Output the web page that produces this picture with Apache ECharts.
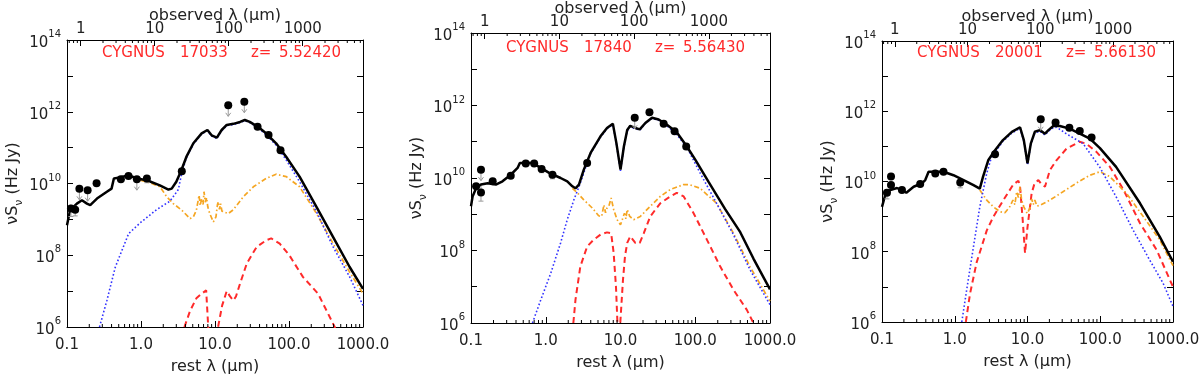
<!DOCTYPE html>
<html><head><meta charset="utf-8">
<script src="https://cdn.jsdelivr.net/npm/echarts@6/dist/echarts.min.js"></script>
<style>html,body{margin:0;padding:0;background:#fff}#c{width:1200px;height:376px;background:#fff}</style>
</head><body><div id="c"></div>
<script>
// ---------------- DATA ----------------
const redshifts = [5.52420, 5.56430, 5.66130];
const sourceIds = ['17033', '17840', '20001'];
const catalogName = 'CYGNUS';
const xTickLabels = ['0.1', '1.0', '10.0', '100.0', '1000.0'];
const topTickLabels = ['1', '10', '100', '1000'];
const minorRest = [0.2,0.3,0.4,0.5,0.6,0.7,0.8,0.9,2,3,4,5,6,7,8,9,20,30,40,50,60,70,80,90,200,300,400,500,600,700,800,900];
const minorObs = [0.7,0.8,0.9,2,3,4,5,6,7,8,9,20,30,40,50,60,70,80,90,200,300,400,500,600,700,800,900,2000,3000,4000,5000,6000];

const lamTot1 = [0.1,0.11,0.136,0.159,0.186,0.206,0.254,0.346,0.40,0.43,0.52,0.68,0.88,1.2,1.8,2.35,2.6,3.0,3.5,4.1,5.1,6.6,7.9,9.0,10.6,12.3,14.4,17.7,21.8,25.3,29.5,38,49,67,92,139,236,395,660,1000];
const tot1 = [6.9e8,1.8e9,2.75e9,3.4e9,2.75e9,2.5e9,3.8e9,5.9e9,7.2e9,1.38e10,1.48e10,1.7e10,1.38e10,1.23e10,8.9e9,6.8e9,7.2e9,1.12e10,2.3e10,5.5e10,1.32e11,2.5e11,3.1e11,2.2e11,1.9e11,3.1e11,4.3e11,4.6e11,5.2e11,5.9e11,5.2e11,3.8e11,2.5e11,1.32e11,5.5e10,1.55e10,2.2e9,3.2e8,4.7e7,1.15e7];
const lamHost1 = [0.975,1.33,1.81,2.22,2.73,3.56,4.6,5.1,5.6,6.1,6.3,6.6,6.9,7.1,7.4,7.7,8.0,8.5,9.5,10.3,10.8,11.1,11.5,11.9,12.4,12.9,15.1,17.7,24.2,33,49,67,92,139,236,395,660,1000];
const host1 = [1.23e10,1.05e10,8.1e9,4.3e9,2.75e9,1.8e9,1.05e9,1.17e9,1.8e9,4.7e9,2.4e9,3.8e9,2.6e9,5.9e9,3.0e9,4.0e9,2.2e9,1.45e9,8.5e8,1.17e9,2.6e9,3.1e9,1.9e9,2.75e9,1.7e9,1.62e9,1.45e9,1.86e9,4.3e9,8.1e9,1.38e10,1.82e10,1.55e10,8.1e9,1.45e9,2.1e8,3.4e7,8.5e6];
const lamSb1 = [0.275,0.346,0.45,0.68,0.975,1.64,2.46,3.2,3.56,4.1,5.1,6.6,7.9,9.0,10.6,12.3,14.4,17.7,21.8,25.3,29.5,38,49,67,92,139,236,395,660,1000];
const sb1 = [1.0e6,5.5e6,4.7e7,4.0e8,8.0e8,1.9e9,3.2e9,6.8e9,2.0e10,5.2e10,1.26e11,2.4e11,2.95e11,2.1e11,1.8e11,2.95e11,4.1e11,4.4e11,5.0e11,5.6e11,5.0e11,3.6e11,2.3e11,1.17e11,4.5e10,1.12e10,1.62e9,1.7e8,2.5e7,4.0e6];
const lamAgn1 = [3.86,4.6,5.6,6.6,7.6,8.1,8.4,10.6,11.0,12.5,14.4,16.0,17.7,19.2,21.8,26.9,36.5,49,57.5,75,101,154,247,415,500];
const agn1 = [1.0e6,2.8e6,6.3e6,8.5e6,1.05e7,1.0e6,1e5,1e5,1.0e6,4.0e6,1.0e7,7.1e6,5.5e6,7.1e6,1.62e7,5.9e7,1.7e8,2.6e8,2.95e8,2.1e8,1.0e8,2.5e7,8.5e6,1.0e6,2.0e5];
const obs1 = [[0.113,2.0e9,0],[0.129,1.86e9,0],[0.147,7.1e9,1],[0.190,6.5e9,1],[0.251,1.02e10,0],[0.535,1.32e10,0],[0.678,1.62e10,0],[0.879,1.32e10,1],[1.20,1.38e10,0],[3.56,2.2e10,0],[15.1,1.51e12,1],[24.9,1.9e12,1],[37.6,3.8e11,0],[52.9,2.24e11,0],[76.8,8.5e10,0]];
const err1 = [[0.113,1.2e9,2.6e9],[0.129,1.25e9,2.4e9],[1.20,1.05e10,1.7e10]];

const lamTot2 = [0.1,0.105,0.117,0.136,0.167,0.215,0.264,0.34,0.42,0.45,0.54,0.66,0.86,1.11,1.58,1.94,2.27,2.5,2.78,3.23,3.98,5.4,6.6,7.9,8.8,10.0,11.1,12.3,13.5,15.8,18.1,21.5,26.4,32.4,41.8,56.5,75.7,100,150,250,400,600,1000];
const tot2 = [1.66e9,3.1e9,5.2e9,6.6e9,7.2e9,6.6e9,8.1e9,1.23e10,1.9e10,2.6e10,2.6e10,2.6e10,1.9e10,1.38e10,1.0e10,8.1e9,5.9e9,5.2e9,6.6e9,1.7e10,4.9e10,1.41e11,2.4e11,3.16e11,9.3e10,1.7e10,7.4e10,2.1e11,2.75e11,2.4e11,2.2e11,3.3e11,4.6e11,4.1e11,2.95e11,1.82e11,7.9e10,3.2e10,7.9e9,1.41e9,3.2e8,6.0e7,8.5e6];
const lamHost2 = [2.27,2.65,3.23,4.2,5.1,5.6,6.0,6.3,6.6,7.0,7.5,8.1,9.0,10.0,11.3,11.8,12.3,13.3,15.0,18.4,25,34,46.4,70,85,116,193,324,540,1000];
const host2 = [5.2e9,3.9e9,2.5e9,1.48e9,9.1e8,8.7e8,1.82e9,1.1e9,1.48e9,1.7e9,2.8e9,1.35e9,7.1e8,5.1e8,1.07e9,7.5e8,1.35e9,8.7e8,7.1e8,8.7e8,1.66e9,3.1e9,4.8e9,6.6e9,6.5e9,5.2e9,2.0e9,3.0e8,3.6e7,4.0e6];
const lamSb2 = [0.664,0.86,1.17,1.58,1.94,2.38,2.9,3.58,3.98,5.4,6.6,7.9,8.8,10.0,11.1,12.3,13.5,15.8,18.1,21.5,26.4,32.4,41.8,56.5,77.8,116,193,324,540,1000];
const sb2 = [1.0e6,4.4e6,2.4e7,1.62e8,7.1e8,2.5e9,7.2e9,2.6e10,4.7e10,1.35e11,2.3e11,3.0e11,8.9e10,1.58e10,7.1e10,2.0e11,2.6e11,2.3e11,2.1e11,3.2e11,4.4e11,3.9e11,2.75e11,1.58e11,6.8e10,1.38e10,2.0e9,2.75e8,2.95e7,3.2e6];
const lamAgn2 = [2.34,2.5,2.9,3.58,4.4,5.4,6.6,7.5,8.1,8.7,9.1,9.3,9.6,10.0,10.8,11.5,12.3,13.5,15.8,18.1,20.5,25,34,46.4,56.5,70,95,143,216,324,490,600,700];
const agn2 = [1.0e6,4.4e6,3.6e7,1.29e8,2.0e8,2.75e8,3.16e8,3.0e8,8.5e7,1.0e7,1.0e6,1e5,1e5,1.26e6,1.58e7,7.1e7,1.62e8,2.45e8,1.62e8,1.62e8,3.0e8,8.7e8,2.0e9,3.1e9,3.9e9,3.1e9,1.07e9,2.0e8,3.6e7,8.3e6,2.3e6,1.0e6,4e5];
const obs2 = [[0.117,5.9e9,0],[0.136,1.7e10,1],[0.136,4.0e9,0],[0.195,8.1e9,0],[0.34,1.15e10,0],[0.54,2.5e10,0],[0.70,2.5e10,0],[0.88,1.78e10,0],[1.23,1.23e10,0],[3.58,2.6e10,0],[15.5,4.6e11,1],[24.4,6.5e11,0],[37.8,3.16e11,0],[52.9,1.95e11,0],[75.7,7.4e10,0]];
const err2 = [[0.136,2.3e9,6.0e9],[0.88,1.4e10,2.2e10],[1.23,9.5e9,1.5e10]];

const lamTot3 = [0.1,0.111,0.130,0.161,0.188,0.216,0.272,0.354,0.393,0.437,0.57,0.70,0.96,1.32,1.81,2.21,2.45,2.9,3.58,4.6,6.1,7.9,8.9,10.0,11.1,12.6,14.8,17.4,19.4,22.6,27.8,37.9,52.3,72,99,165,352,656,1000];
const tot3 = [1.9e9,4.2e9,5.75e9,6.5e9,5.75e9,4.8e9,7.1e9,8.9e9,1.1e10,1.9e10,1.9e10,1.9e10,1.51e10,1.1e10,7.9e9,6.3e9,1.38e10,4.1e10,7.8e10,1.51e11,2.6e11,3.5e11,1.51e11,3.3e10,1.2e11,2.6e11,2.9e11,2.3e11,2.9e11,3.8e11,3.8e11,3.2e11,2.3e11,1.66e11,8.9e10,2.6e10,2.4e9,2.7e8,5.2e7];
const lamHost3 = [2.21,2.75,3.39,4.2,4.9,5.7,6.3,6.7,7.1,7.5,7.9,8.3,8.9,9.9,10.8,11.4,12.0,12.6,13.5,14.8,20.3,30.7,46.6,72,99,135,229,391,656,1000];
const host3 = [5.75e9,2.95e9,1.9e9,1.38e9,1.29e9,1.9e9,2.95e9,2.2e9,5.1e9,3.5e9,7.1e9,2.95e9,1.9e9,1.23e9,1.74e9,3.2e9,2.2e9,2.95e9,2.0e9,2.1e9,2.95e9,5.1e9,8.9e9,1.51e10,1.9e10,1.38e10,4.6e9,1.0e9,2.2e8,4.0e7];
const lamSb3 = [1.25,1.46,1.81,2.21,2.75,3.2,3.77,4.6,6.1,7.9,8.9,10.0,11.1,12.6,14.8,17.4,19.4,22.6,25.2,34,58,98,165,282,476,729,1000];
const sb3 = [1.0e6,8.3e6,1.41e8,1.9e9,1.7e10,5.0e10,7.8e10,1.41e11,2.4e11,3.3e11,1.41e11,3.0e10,1.12e11,2.4e11,2.7e11,2.1e11,2.7e11,3.4e11,3.5e11,2.3e11,1.2e11,2.6e10,3.7e9,4.2e8,5.9e7,1.29e7,2.8e6];
const lamAgn3 = [1.42,1.62,2.0,2.75,3.4,4.66,6.4,7.5,7.9,8.6,9.25,10.0,11.4,12.5,14.1,15.6,17.4,20.3,25,34.5,52,64,88,136,209,352,597,1000];
const agn3 = [1.0e6,6.3e6,5.0e7,4.0e8,1.0e9,2.95e9,8.3e9,1.05e10,7.1e9,7.9e8,9.1e7,5.0e8,4.6e9,8.9e9,1.1e10,8.3e9,7.1e9,2.1e10,4.0e10,8.7e10,1.35e11,1.2e11,7.1e10,2.6e10,5.75e9,6.5e8,1.12e8,1.0e7];
const obs3 = [[0.117,4.8e9,0],[0.133,7.9e9,0],[0.133,1.38e10,0],[0.188,5.75e9,0],[0.335,8.5e9,0],[0.54,1.7e10,0],[0.70,1.9e10,0],[1.19,9.3e9,0],[3.58,6.0e10,0],[15.2,5.9e11,1],[24.3,4.8e11,0],[37.6,3.4e11,0],[52.3,2.75e11,0],[76.0,1.78e11,0]];
const err3 = [[0.117,3.2e9,6.0e9],[1.19,6.6e9,1.1e10]];

// ---------------- LAYOUT ----------------
const FONT = 'DejaVu Sans';
const layout = [
  {grid: {left: 67, top: 40, width: 296, height: 287}, labelDy: 13},
  {grid: {left: 471, top: 33, width: 299, height: 290}, labelDy: 15},
  {grid: {left: 882, top: 41, width: 291, height: 281}, labelDy: 12}
];
const labelDx = 35;
const labelOffsets = [0, 78, 149, 177];
const curves = [
  {tot: [lamTot1, tot1], sb: [lamSb1, sb1], host: [lamHost1, host1], agn: [lamAgn1, agn1], obs: obs1, err: err1},
  {tot: [lamTot2, tot2], sb: [lamSb2, sb2], host: [lamHost2, host2], agn: [lamAgn2, agn2], obs: obs2, err: err2},
  {tot: [lamTot3, tot3], sb: [lamSb3, sb3], host: [lamHost3, host3], agn: [lamAgn3, agn3], obs: obs3, err: err3}
];
const zip = (xs, ys) => xs.map((x, i) => [x, ys[i]]);
const decade = v => Math.round(Math.log10(v));
const isDecade = v => Math.abs(Math.log10(v) - Math.round(Math.log10(v))) < 1e-6;
const grids = [], xAxes = [], yAxes = [], series = [];
const RED = '#ff2a2a';

layout.forEach((L, i) => {
  const z = redshifts[i];
  grids.push(Object.assign({containLabel: false, outerBoundsMode: 'none'}, L.grid));
  xAxes.push({
    type: 'log', gridIndex: i, position: 'bottom', min: 0.1, max: 1000,
    axisLine: {show: true, lineStyle: {color: '#000', width: 1}},
    axisTick: {show: true, inside: true, length: 6, lineStyle: {color: '#000'}},
    axisLabel: {fontFamily: FONT, fontSize: 15, color: '#222', margin: 11,
      formatter: v => isDecade(v) ? xTickLabels[decade(v) + 1] : ''},
    splitLine: {show: false},
    name: 'rest λ (μm)', nameLocation: 'middle', nameGap: 32, nameMoveOverlap: false,
    nameTextStyle: {fontFamily: FONT, fontSize: 16, color: '#222'}
  });
  xAxes.push({
    type: 'log', gridIndex: i, position: 'top', min: 0.1 * (1 + z), max: 1000 * (1 + z),
    axisLine: {show: true, lineStyle: {color: '#000', width: 1}},
    axisTick: {show: true, inside: true, length: 6, lineStyle: {color: '#000'}},
    axisLabel: {fontFamily: FONT, fontSize: 15, color: '#222', margin: 3,
      formatter: v => isDecade(v) ? topTickLabels[decade(v)] : ''},
    splitLine: {show: false},
    name: 'observed λ (μm)', nameLocation: 'middle', nameGap: 16, nameMoveOverlap: false,
    nameTextStyle: {fontFamily: FONT, fontSize: 16, color: '#222'}
  });
  yAxes.push({
    type: 'log', gridIndex: i, position: 'left', min: 1e6, max: 1e14, splitNumber: 8,
    axisLine: {show: true, lineStyle: {color: '#000', width: 1}},
    axisTick: {show: true, inside: true, length: 6, lineStyle: {color: '#000'}},
    axisLabel: {fontFamily: FONT, color: '#222', margin: 6,
      formatter: v => (isDecade(v) && decade(v) % 2 === 0) ? '{b|10}{s|' + decade(v) + '}' : '',
      rich: {b: {fontFamily: FONT, fontSize: 15, color: '#222', padding: [6, 0, 0, 0]},
             s: {fontFamily: FONT, fontSize: 10, color: '#222', verticalAlign: 'top'}}},
    splitLine: {show: false},
    name: '{a|νS}{u|ν}{a| (Hz Jy)}', nameLocation: 'middle', nameGap: 42, nameRotate: 90, nameMoveOverlap: false,
    nameTextStyle: {fontFamily: FONT, fontSize: 16, color: '#222',
      rich: {a: {fontFamily: FONT, fontSize: 16, color: '#222', padding: [0, 0, 4, 0]},
             u: {fontFamily: FONT, fontSize: 11, color: '#222', verticalAlign: 'bottom'}}}
  });
  yAxes.push({
    type: 'log', gridIndex: i, position: 'right', min: 1e6, max: 1e14, splitNumber: 8,
    axisLine: {show: true, lineStyle: {color: '#000', width: 1}},
    axisTick: {show: true, inside: true, length: 6, lineStyle: {color: '#000'}},
    axisLabel: {show: false}, splitLine: {show: false}
  });
  const xb = 2 * i, xt = 2 * i + 1, yl = 2 * i;
  const C = curves[i];
  const lineBase = {type: 'line', xAxisIndex: xb, yAxisIndex: yl, showSymbol: false, symbol: 'none',
                    silent: true, clip: true, smooth: false};
  series.push(Object.assign({}, lineBase, {data: zip(C.agn[0], C.agn[1]), z: 3, color: RED,
    lineStyle: {color: RED, width: 2, type: [6, 4]}}));
  series.push(Object.assign({}, lineBase, {data: zip(C.host[0], C.host[1]), z: 4, color: '#f5a623',
    lineStyle: {color: '#f5a623', width: 1.7, type: [5, 2.5, 1.5, 2.5]}}));
  series.push(Object.assign({}, lineBase, {data: zip(C.sb[0], C.sb[1]), z: 5, color: '#3333ff',
    lineStyle: {color: '#3333ff', width: 1.6, type: [1.6, 2.2]}}));
  series.push(Object.assign({}, lineBase, {data: zip(C.tot[0], C.tot[1]), z: 6, color: '#000',
    lineStyle: {color: '#000', width: 2.5}}));
  series.push({type: 'custom', xAxisIndex: xb, yAxisIndex: yl, silent: true, z: 7, data: C.err, color: '#9a9a9a',
    renderItem: (p, api) => {
      const a = api.coord([api.value(0), api.value(1)]);
      const b = api.coord([api.value(0), api.value(2)]);
      return {type: 'group', children: [
        {type: 'line', shape: {x1: a[0], y1: a[1], x2: b[0], y2: b[1]}, style: {stroke: '#9a9a9a', lineWidth: 1}},
        {type: 'line', shape: {x1: a[0] - 2.5, y1: a[1], x2: a[0] + 2.5, y2: a[1]}, style: {stroke: '#9a9a9a', lineWidth: 1}}
      ]};
    }});
  series.push({type: 'custom', xAxisIndex: xb, yAxisIndex: yl, silent: true, z: 7, color: '#9a9a9a',
    data: C.obs.filter(d => d[2] === 1),
    renderItem: (p, api) => {
      const c = api.coord([api.value(0), api.value(1)]);
      return {type: 'group', children: [
        {type: 'line', shape: {x1: c[0], y1: c[1] + 2, x2: c[0], y2: c[1] + 11}, style: {stroke: '#9a9a9a', lineWidth: 1}},
        {type: 'polyline', shape: {points: [[c[0] - 2.5, c[1] + 7.5], [c[0], c[1] + 11], [c[0] + 2.5, c[1] + 7.5]]},
         style: {stroke: '#9a9a9a', lineWidth: 1, fill: null}}
      ]};
    }});
  series.push({type: 'scatter', xAxisIndex: xb, yAxisIndex: yl, silent: true, z: 8, color: '#000',
    data: C.obs.map(d => [d[0], d[1]]), symbol: 'circle', symbolSize: 8,
    itemStyle: {color: '#000', opacity: 1}});
  series.push({type: 'custom', xAxisIndex: xb, yAxisIndex: yl, silent: true, z: 9, color: '#000',
    data: minorRest.map(v => [v, 1e6]),
    renderItem: (p, api) => {
      const c = api.coord([api.value(0), api.value(1)]);
      return {type: 'line', shape: {x1: c[0], y1: c[1], x2: c[0], y2: c[1] - 3}, style: {stroke: '#000', lineWidth: 1}};
    }});
  series.push({type: 'custom', xAxisIndex: xt, yAxisIndex: yl, silent: true, z: 9, color: '#000',
    data: minorObs.filter(v => v > 0.1 * (1 + z) && v < 1000 * (1 + z)).map(v => [v, 1e14]),
    renderItem: (p, api) => {
      const c = api.coord([api.value(0), api.value(1)]);
      return {type: 'line', shape: {x1: c[0], y1: c[1], x2: c[0], y2: c[1] + 3}, style: {stroke: '#000', lineWidth: 1}};
    }});
  // in-plot label, anchored to the top-left corner of the panel
  const parts = [catalogName, sourceIds[i], 'z=', z.toFixed(5)];
  series.push({type: 'custom', xAxisIndex: xb, yAxisIndex: yl, silent: true, z: 20, color: RED,
    data: [[0.1, 1e14]],
    renderItem: (p, api) => {
      const c = api.coord([api.value(0), api.value(1)]);
      return {type: 'group', children: parts.map((t, k) => ({
        type: 'text', x: c[0] + labelDx + labelOffsets[k], y: c[1] + L.labelDy,
        style: {text: t, fill: RED, fontFamily: FONT, fontSize: 15, verticalAlign: 'middle', align: 'left'}
      }))};
    }});
});

const chart = echarts.init(document.getElementById('c'));
chart.setOption({
  animation: false,
  grid: grids,
  xAxis: xAxes,
  yAxis: yAxes,
  series: series
});
</script></body></html>
